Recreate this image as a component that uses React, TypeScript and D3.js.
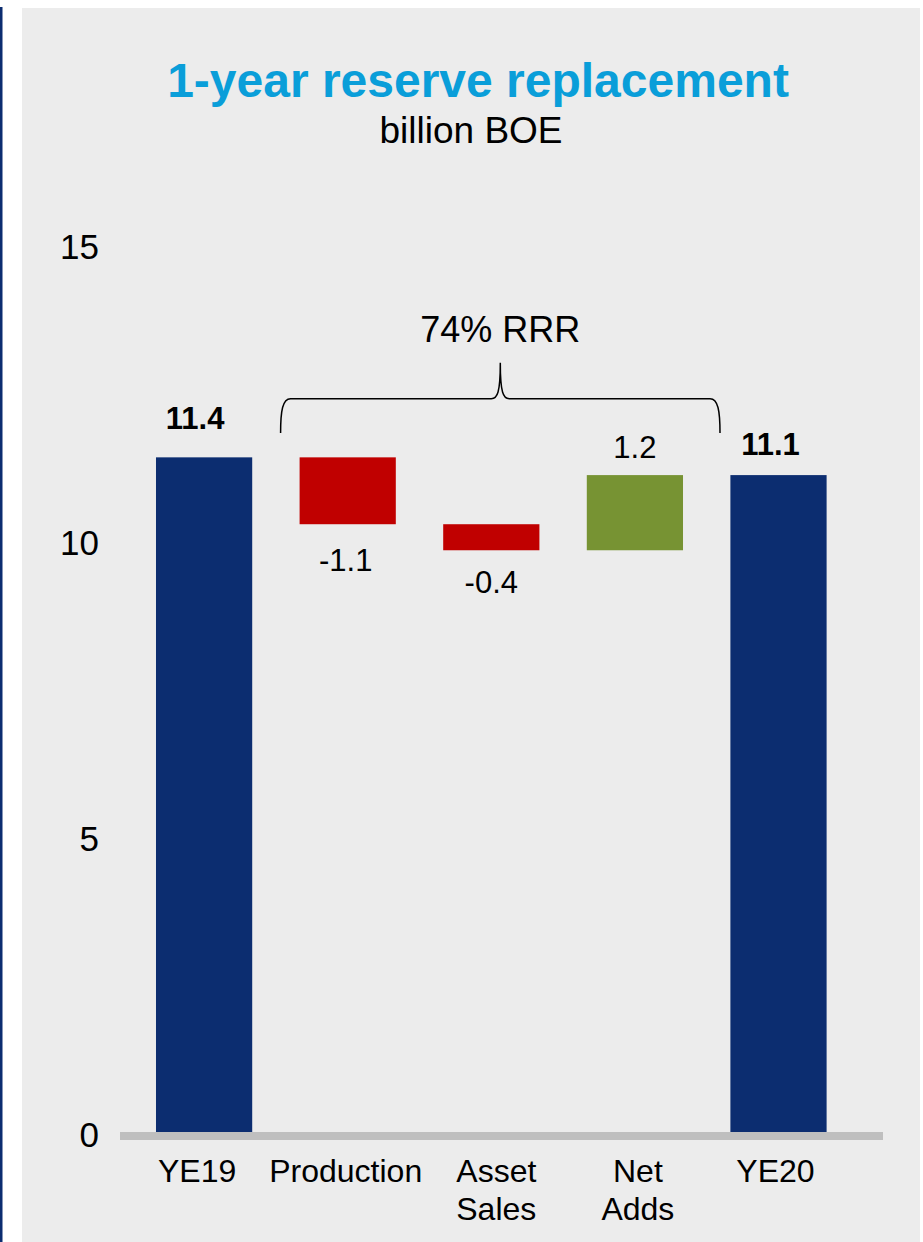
import React from "react";
import * as d3 from "d3";

const categories = ["YE19", "Production", "Asset Sales", "Net Adds", "YE20"];
const values = [11.4, -1.13, -0.44, 1.27, 11.1];
const kinds = ["total", "delta", "delta", "delta", "total"];
const valueLabels = ["11.4", "-1.1", "-0.4", "1.2", "11.1"];
const categoryLines = [["YE19"], ["Production"], ["Asset", "Sales"], ["Net", "Adds"], ["YE20"]];
const yTicks = [0, 5, 10, 15];
const title = "1-year reserve replacement";
const subtitle = "billion BOE";
const braceLabel = "74% RRR";

// layout nudges (text boxes placed by hand in the original)
const catLabelNudge = [-7, -2, 5, 3, -3];
const valLabelNudgeX = [-9, -2, 0, 0, -8];
const valLabelGap = [28, 47, 43, 17, 20];

const W = 923;
const H = 1242;
const FONT = "'Liberation Sans', Arial, Helvetica, sans-serif";
const C_TOTAL = "#0c2d70";
const C_NEG = "#c00000";
const C_POS = "#779333";

export default function App() {
  const x = d3.scaleBand<string>().domain(categories).range([132.3, 850.3]).paddingInner(0.33).paddingOuter(0.165);
  const y = d3.scaleLinear().domain([0, 15]).range([1132, 244.3]);
  const bw = x.bandwidth();

  let running = 0;
  const bars = categories.map((c, i) => {
    let y0: number, y1: number;
    if (kinds[i] === "total") {
      y0 = 0;
      y1 = values[i];
      running = values[i];
    } else {
      y0 = running;
      y1 = running + values[i];
      running = y1;
    }
    const top = y(Math.max(y0, y1));
    const bottom = y(Math.min(y0, y1));
    const fill = kinds[i] === "total" ? C_TOTAL : values[i] < 0 ? C_NEG : C_POS;
    return { c, i, top, bottom, fill };
  });

  // brace
  const xL = (x("Production") as number) - 19;
  const xR = (x("Net Adds") as number) + bw + 37;
  const cx = (xL + xR) / 2;
  const yBot = y(11.81);
  const yMid = y(12.39);
  const yTip = y(13.0);
  const bracePath = `M${xL},${yBot} C${xL},${yMid + 12} ${xL + 2},${yMid} ${xL + 10},${yMid} L${cx - 9},${yMid} C${cx - 3},${yMid} ${cx},${yMid - 6} ${cx},${yTip} C${cx},${yMid - 6} ${cx + 3},${yMid} ${cx + 9},${yMid} L${xR - 10},${yMid} C${xR - 2},${yMid} ${xR},${yMid + 12} ${xR},${yBot}`;

  return (
    <svg width={W} height={H} style={{ position: "absolute", left: 0, top: 0, display: "block" }} fontFamily={FONT}>
      <rect x={0} y={0} width={W} height={H} fill="#ffffff" />
      <rect x={22} y={8} width={898} height={H - 8} fill="#ececec" />
      <rect x={0} y={7} width={2.5} height={H - 7} fill="#0c2d70" />

      <text x={478} y={97} textAnchor="middle" fontSize={48} fontWeight="bold" fill="#0a9ed9">{title}</text>
      <text x={471} y={143} textAnchor="middle" fontSize={37} fill="#000">{subtitle}</text>

      {yTicks.map((t) => (
        <text key={t} x={99} y={y(t)} dy={15} textAnchor="end" fontSize={35} fill="#000">{t}</text>
      ))}

      {bars.map((b) => (
        <rect key={b.c} x={x(b.c)} y={b.top} width={bw} height={b.bottom - b.top} fill={b.fill} />
      ))}

      <rect x={120} y={y(0)} width={763} height={8} fill="#bfbfbf" />

      {bars.map((b) => {
        const i = b.i;
        const cxb = (x(b.c) as number) + bw / 2 + valLabelNudgeX[i];
        const isTotal = kinds[i] === "total";
        const neg = values[i] < 0;
        const yy = neg ? b.bottom + valLabelGap[i] : b.top - valLabelGap[i];
        return (
          <text key={"l" + b.c} x={cxb} y={yy} textAnchor="middle" fontSize={31} fontWeight={isTotal ? "bold" : "normal"} fill="#000">
            {valueLabels[i]}
          </text>
        );
      })}

      {categories.map((c, i) => {
        const lx = (x(c) as number) + bw / 2 + catLabelNudge[i];
        return (
          <text key={"c" + c} x={lx} y={1182} textAnchor="middle" fontSize={32} fill="#000">
            {categoryLines[i].map((ln, k) => (
              <tspan key={k} x={lx} dy={k === 0 ? 0 : 37.6}>{ln}</tspan>
            ))}
          </text>
        );
      })}

      <path d={bracePath} fill="none" stroke="#000" strokeWidth={1.5} />
      <text x={cx} y={342} textAnchor="middle" fontSize={36} fill="#000">{braceLabel}</text>
    </svg>
  );
}
